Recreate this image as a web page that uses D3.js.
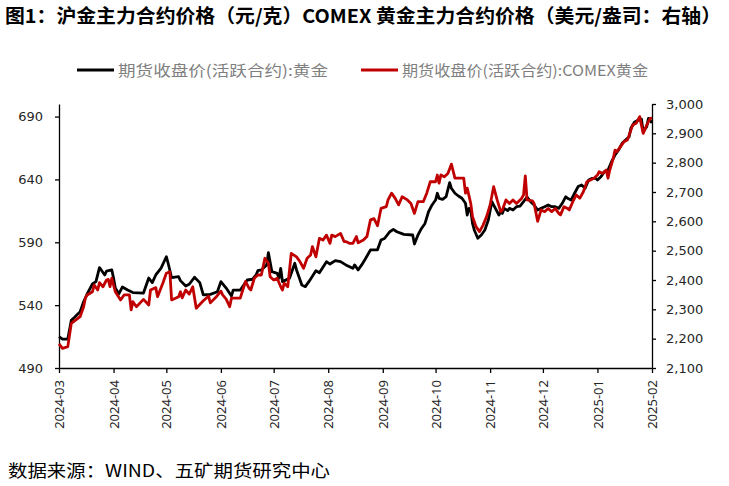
<!DOCTYPE html>
<html>
<head>
<meta charset="utf-8">
<script src="https://cdn.jsdelivr.net/npm/d3@7"></script>
<style>
  html, body { margin: 0; padding: 0; background: #ffffff; }
  svg { display: block; }
</style>
</head>
<body>
<svg id="chart" width="729" height="486"></svg>
<script>
// -----------------------------
// Data
// -----------------------------
const shfeDates = [
  "2024-03-01","2024-03-03","2024-03-06","2024-03-08","2024-03-10","2024-03-13","2024-03-15","2024-03-17",
  "2024-03-20","2024-03-22","2024-03-24","2024-03-25","2024-03-27","2024-03-28","2024-03-31","2024-04-01",
  "2024-04-02","2024-04-04","2024-04-06","2024-04-09","2024-04-12","2024-04-18","2024-04-21","2024-04-23",
  "2024-04-25","2024-04-28","2024-05-01","2024-05-02","2024-05-04","2024-05-08","2024-05-09","2024-05-12",
  "2024-05-14","2024-05-17","2024-05-20","2024-05-22","2024-05-26","2024-05-30","2024-06-01","2024-06-04",
  "2024-06-07","2024-06-08","2024-06-12","2024-06-14","2024-06-16","2024-06-19","2024-06-21","2024-06-22",
  "2024-06-24","2024-06-27","2024-06-28","2024-06-30","2024-07-03","2024-07-04","2024-07-05","2024-07-06",
  "2024-07-10","2024-07-13","2024-07-14","2024-07-17","2024-07-19","2024-07-21","2024-07-25","2024-07-27",
  "2024-07-31","2024-08-02","2024-08-05","2024-08-08","2024-08-11","2024-08-15","2024-08-16","2024-08-18",
  "2024-08-20","2024-08-22","2024-08-25","2024-08-29","2024-08-31","2024-09-02","2024-09-05","2024-09-07",
  "2024-09-09","2024-09-13","2024-09-18","2024-09-19","2024-09-21","2024-09-23","2024-09-25","2024-09-27",
  "2024-09-29","2024-10-01","2024-10-02","2024-10-03","2024-10-05","2024-10-07","2024-10-09","2024-10-10",
  "2024-10-12","2024-10-14","2024-10-16","2024-10-18","2024-10-19","2024-10-20","2024-10-21","2024-10-22",
  "2024-10-23","2024-10-25","2024-10-27","2024-10-29","2024-10-31","2024-11-02","2024-11-04","2024-11-06",
  "2024-11-07","2024-11-08","2024-11-09","2024-11-11","2024-11-12","2024-11-14","2024-11-16","2024-11-18",
  "2024-11-20","2024-11-22","2024-11-24","2024-11-26","2024-11-28","2024-11-30","2024-12-02","2024-12-04",
  "2024-12-06","2024-12-08","2024-12-10","2024-12-12","2024-12-14","2024-12-15","2024-12-17","2024-12-19",
  "2024-12-21","2024-12-23","2024-12-25","2024-12-27","2024-12-29","2024-12-31","2025-01-01","2025-01-03",
  "2025-01-05","2025-01-07","2025-01-09","2025-01-11","2025-01-13","2025-01-15","2025-01-17","2025-01-19",
  "2025-01-20","2025-01-22","2025-01-24","2025-01-26","2025-01-27","2025-01-29","2025-01-30","2025-02-01"
];
const shfeValues = [
  515, 513, 513, 528, 530.6, 534.8, 542.7, 548.9,
  556.8, 558.7, 569.8, 568, 564, 567, 568, 561.6,
  553.6, 548.9, 554.4, 552, 550, 549.6, 561.6, 557.9,
  564, 569.5, 578.5, 573.5, 561.8, 562.6, 559.5, 555.2,
  556.6, 562.2, 557.9, 548.1, 548.6, 550.7, 558.7, 553.6,
  547.3, 552, 552, 556, 560, 560.6, 564, 567.4,
  568, 572, 581.7, 566.6, 565.3, 561.4, 569.3, 558.7,
  561.4, 573.3, 568, 556, 554.7, 558.7, 567.4, 565.8,
  574.6, 572.7, 575.4, 574.6, 572, 569.3, 572, 568,
  572, 576.5, 583.9, 584, 591.8, 593, 598.4, 600.3,
  598.4, 596.3, 595.8, 588.6, 595.8, 601, 605, 614.3,
  619.7, 623.6, 629, 625, 624.2, 626.3, 637.4, 633,
  629, 626.8, 625, 621, 611.7, 617, 615.7, 605,
  599.8, 593.2, 595.8, 599.8, 607.7, 622.3, 617, 611.7,
  614.3, 613, 617, 615.2, 617, 615.7, 618.3, 618.8,
  622.3, 626, 622.3, 619.7, 615.7, 617, 618.3, 619.7,
  618.3, 618.3, 617, 621, 626.3, 625, 623.6, 629,
  634.3, 635.6, 633, 639.6, 640.9, 640.9, 639.6, 642.2,
  646.2, 647.5, 654.1, 659.4, 663.4, 668.7, 671.4, 674,
  680.7, 685.5, 687, 688, 678, 682, 688.6, 685
];

const comexDates = [
  "2024-03-01","2024-03-03","2024-03-06","2024-03-08","2024-03-13","2024-03-15","2024-03-16","2024-03-17",
  "2024-03-20","2024-03-21","2024-03-23","2024-03-24","2024-03-26","2024-03-28","2024-03-29","2024-03-30",
  "2024-03-31","2024-04-02","2024-04-05","2024-04-07","2024-04-10","2024-04-11","2024-04-12","2024-04-14",
  "2024-04-18","2024-04-21","2024-04-22","2024-04-25","2024-04-26","2024-04-29","2024-05-01","2024-05-03",
  "2024-05-04","2024-05-08","2024-05-09","2024-05-10","2024-05-12","2024-05-14","2024-05-16","2024-05-18",
  "2024-05-22","2024-05-25","2024-05-26","2024-05-29","2024-06-01","2024-06-02","2024-06-04","2024-06-06",
  "2024-06-07","2024-06-11","2024-06-12","2024-06-15","2024-06-17","2024-06-18","2024-06-20","2024-06-22",
  "2024-06-24","2024-06-26","2024-06-28","2024-06-29","2024-07-01","2024-07-03","2024-07-05","2024-07-06",
  "2024-07-07","2024-07-09","2024-07-11","2024-07-14","2024-07-16","2024-07-18","2024-07-20","2024-07-22",
  "2024-07-23","2024-07-25","2024-07-27","2024-07-29","2024-07-31","2024-08-02","2024-08-03","2024-08-05",
  "2024-08-08","2024-08-10","2024-08-11","2024-08-13","2024-08-15","2024-08-17","2024-08-18","2024-08-21",
  "2024-08-23","2024-08-25","2024-08-27","2024-08-29","2024-08-31","2024-09-03","2024-09-04","2024-09-06",
  "2024-09-08","2024-09-10","2024-09-12","2024-09-15","2024-09-17","2024-09-19","2024-09-21","2024-09-24",
  "2024-09-26","2024-09-28","2024-10-01","2024-10-02","2024-10-03","2024-10-04","2024-10-06","2024-10-08",
  "2024-10-10","2024-10-12","2024-10-15","2024-10-17","2024-10-18","2024-10-19","2024-10-21","2024-10-22",
  "2024-10-24","2024-10-26","2024-10-28","2024-10-30","2024-11-01","2024-11-03","2024-11-05","2024-11-07",
  "2024-11-08","2024-11-10","2024-11-12","2024-11-14","2024-11-16","2024-11-19","2024-11-20","2024-11-21",
  "2024-11-22","2024-11-25","2024-11-26","2024-11-28","2024-11-30","2024-12-02","2024-12-04","2024-12-06",
  "2024-12-08","2024-12-10","2024-12-11","2024-12-13","2024-12-15","2024-12-16","2024-12-18","2024-12-20",
  "2024-12-22","2024-12-24","2024-12-26","2024-12-28","2024-12-30","2025-01-01","2025-01-02","2025-01-04",
  "2025-01-06","2025-01-07","2025-01-08","2025-01-10","2025-01-11","2025-01-12","2025-01-14","2025-01-16",
  "2025-01-18","2025-01-19","2025-01-21","2025-01-23","2025-01-25","2025-01-26","2025-01-27","2025-01-29",
  "2025-01-31","2025-02-01"
];
const comexValues = [
  2182, 2167, 2173, 2252, 2275, 2309, 2339, 2349,
  2360, 2383, 2366, 2391, 2377, 2400, 2402, 2377,
  2406, 2360, 2332, 2349, 2349, 2298, 2326, 2309,
  2334, 2315, 2366, 2374, 2343, 2389, 2423, 2428,
  2332, 2343, 2360, 2339, 2366, 2352, 2377, 2304,
  2329, 2345, 2322, 2340, 2362, 2349, 2335, 2309,
  2338, 2338, 2338, 2395, 2372, 2366, 2406, 2417,
  2417, 2474, 2457, 2411, 2400, 2406, 2377, 2366,
  2389, 2377, 2491, 2479, 2462, 2440, 2474, 2485,
  2514, 2479, 2542, 2536, 2553, 2525, 2553, 2548,
  2559, 2531, 2531, 2525, 2525, 2548, 2527, 2536,
  2548, 2605, 2609, 2585, 2644, 2650, 2673, 2696,
  2679, 2656, 2684, 2673, 2661, 2627, 2667, 2667,
  2696, 2735, 2735, 2758, 2730, 2758, 2752, 2763,
  2795, 2747, 2747, 2747, 2696, 2713, 2661, 2616,
  2582, 2565, 2587, 2616, 2656, 2718, 2673, 2633,
  2639, 2673, 2661, 2673, 2661, 2679, 2690, 2755,
  2673, 2670, 2661, 2600, 2639, 2633, 2644, 2633,
  2644, 2627, 2622, 2650, 2644, 2639, 2667, 2690,
  2679, 2701, 2735, 2741, 2747, 2758, 2769, 2763,
  2775, 2747, 2775, 2815, 2843, 2837, 2854, 2871,
  2877, 2894, 2928, 2934, 2957, 2928, 2900, 2928,
  2951, 2952
];

const leftTicks = [490, 540, 590, 640, 690];
const rightTicks = [2100, 2200, 2300, 2400, 2500, 2600, 2700, 2800, 2900, 3000];

const titleText = "图1：沪金主力合约价格（元/克）COMEX 黄金主力合约价格（美元/盎司：右轴）";
const seriesNames = ["期货收盘价(活跃合约):黄金", "期货收盘价(活跃合约):COMEX黄金"];
const sourceText = "数据来源：WIND、五矿期货研究中心";

// -----------------------------
// Layout
// -----------------------------
const svg = d3.select("#chart");
const plotLeft = 59;
const plotRight = 652;
const plotTop = 104;
const plotBottom = 368;

const cjkFont = "'Noto Sans CJK SC', 'Noto Sans', sans-serif";
const tickFont = "'DejaVu Sans', sans-serif";

const parseDate = d3.timeParse("%Y-%m-%d");

const shfe = shfeDates.map((d, i) => ({ date: parseDate(d), value: shfeValues[i] }));
const comex = comexDates.map((d, i) => ({ date: parseDate(d), value: comexValues[i] }));

// -----------------------------
// Scales
// -----------------------------
const x = d3
  .scaleTime()
  .domain([parseDate("2024-03-01"), parseDate("2025-02-01")])
  .range([plotLeft, plotRight]);

const yLeft = d3.scaleLinear().domain([490, 700]).range([plotBottom, plotTop]);
const yRight = d3.scaleLinear().domain([2100, 3000]).range([plotBottom, plotTop]);

// -----------------------------
// Title
// -----------------------------
svg
  .append("text")
  .attr("x", 5)
  .attr("y", 23)
  .attr("textLength", 716)
  .attr("lengthAdjust", "spacingAndGlyphs")
  .style("font-family", cjkFont)
  .style("font-size", "19px")
  .style("font-weight", "700")
  .style("fill", "#000")
  .text(titleText);

// -----------------------------
// Legend
// -----------------------------
const legendItems = [
  { name: seriesNames[0], color: "#000000", x0: 77, textX: 118, textLen: 210 },
  { name: seriesNames[1], color: "#c00000", x0: 361, textX: 402, textLen: 246 },
];

const legend = svg.append("g").attr("class", "legend");
legendItems.forEach((d) => {
  legend
    .append("line")
    .attr("x1", d.x0)
    .attr("x2", d.x0 + 37)
    .attr("y1", 70)
    .attr("y2", 70)
    .attr("stroke", d.color)
    .attr("stroke-width", 2.8);
  legend
    .append("text")
    .attr("x", d.textX)
    .attr("y", 76)
    .attr("textLength", d.textLen)
    .attr("lengthAdjust", "spacingAndGlyphs")
    .style("font-family", cjkFont)
    .style("font-size", "15px")
    .style("fill", "#7f7f7f")
    .text(d.name);
});

// -----------------------------
// Axes
// -----------------------------
const styleAxis = (g) => {
  g.selectAll("path, line").attr("stroke", "#000").attr("stroke-width", 1.3);
  g.selectAll("text").style("fill", "#262626").style("font-family", tickFont);
};

svg
  .append("g")
  .attr("transform", `translate(${plotLeft},0)`)
  .call(d3.axisLeft(yLeft).tickValues(leftTicks).tickSize(4).tickSizeOuter(0).tickPadding(12))
  .call(styleAxis)
  .call((g) => g.selectAll("text").style("font-size", "13px"));

svg
  .append("g")
  .attr("transform", `translate(${plotRight},0)`)
  .call(
    d3
      .axisRight(yRight)
      .tickValues(rightTicks)
      .tickSize(4)
      .tickSizeOuter(0)
      .tickPadding(10)
      .tickFormat(d3.format(","))
  )
  .call(styleAxis)
  .call((g) => g.selectAll("text").style("font-size", "13px"));

svg
  .append("g")
  .attr("transform", `translate(0,${plotBottom})`)
  .call(
    d3
      .axisBottom(x)
      .ticks(d3.timeMonth.every(1))
      .tickSize(5)
      .tickSizeOuter(0)
      .tickFormat(d3.timeFormat("%Y-%m"))
  )
  .call(styleAxis)
  .call((g) =>
    g
      .selectAll("text")
      .style("font-family", "'Noto Sans', sans-serif")
      .style("font-size", "13px")
      .attr("text-anchor", "end")
      .attr("transform", "rotate(-90)")
      .attr("x", -12)
      .attr("y", 0)
      .attr("dy", "0.35em")
  );

// -----------------------------
// Lines
// -----------------------------
const lineLeft = d3
  .line()
  .x((d) => x(d.date))
  .y((d) => yLeft(d.value));

const lineRight = d3
  .line()
  .x((d) => x(d.date))
  .y((d) => yRight(d.value));

svg
  .append("path")
  .datum(shfe)
  .attr("d", lineLeft)
  .attr("fill", "none")
  .attr("stroke", "#000000")
  .attr("stroke-width", 2.8)
  .attr("stroke-linejoin", "round");

svg
  .append("path")
  .datum(comex)
  .attr("d", lineRight)
  .attr("fill", "none")
  .attr("stroke", "#c00000")
  .attr("stroke-width", 2.8)
  .attr("stroke-linejoin", "round");

// -----------------------------
// Source note
// -----------------------------
svg
  .append("text")
  .attr("x", 8)
  .attr("y", 477)
  .attr("textLength", 322)
  .attr("lengthAdjust", "spacingAndGlyphs")
  .style("font-family", cjkFont)
  .style("font-size", "17px")
  .style("fill", "#000")
  .text(sourceText);
</script>
</body>
</html>
